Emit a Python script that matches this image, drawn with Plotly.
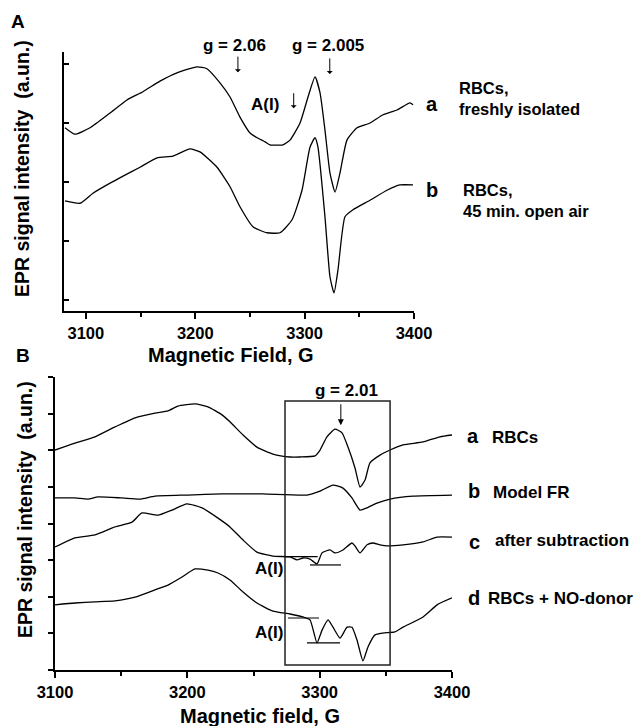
import plotly.graph_objects as go

# ---------------- Panel A data (field in G, intensity in a.un.) ----------------
field_A_a = [3080.9, 3090.1, 3103.8, 3122.1, 3137.6, 3152.2, 3167.8, 3183.3, 3201.6, 3210.7,
             3222.6, 3231.8, 3240.9, 3250.1, 3256.5, 3263.8, 3268.3, 3280.2, 3286.6, 3295.8,
             3303.1, 3309.5, 3314.1, 3318.6, 3323.2, 3327.8, 3332.3, 3338.7, 3347.9, 3359.8,
             3371.7, 3384.5, 3396.3, 3399.1]
int_A_a = [2.92, 2.81, 2.92, 3.17, 3.39, 3.53, 3.71, 3.85, 3.95, 3.92,
           3.68, 3.44, 3.10, 2.83, 2.75, 2.68, 2.63, 2.63, 2.71, 3.00,
           3.44, 3.78, 3.51, 2.88, 2.15, 1.83, 2.15, 2.71, 2.92, 3.00,
           3.14, 3.22, 3.34, 3.31]

field_A_b = [3080.9, 3094.6, 3106.5, 3122.1, 3134.0, 3149.5, 3165.0, 3179.7, 3195.2, 3204.3,
             3219.9, 3231.8, 3240.9, 3252.8, 3265.6, 3277.5, 3288.5, 3297.6, 3304.9, 3309.5,
             3312.2, 3318.6, 3323.2, 3326.9, 3330.5, 3336.9, 3344.2, 3359.8, 3375.3, 3387.2,
             3399.1]
int_A_b = [1.68, 1.64, 1.81, 1.98, 2.10, 2.25, 2.41, 2.44, 2.56, 2.51,
           2.25, 1.92, 1.58, 1.24, 1.14, 1.14, 1.36, 1.86, 2.59, 2.75,
           2.59, 1.41, 0.39, 0.12, 0.51, 1.41, 1.53, 1.69, 1.86, 1.95,
           1.95]

# ---------------- Panel B data ----------------
field_B_a = [3100, 3115.1, 3130.2, 3145.3, 3160.5, 3175.6, 3185.4, 3192.9, 3205.8, 3215.6,
             3226.2, 3232.2, 3242.1, 3252.6, 3264.7, 3277.6, 3285.1, 3296.5, 3300.3, 3305.5,
             3311.6, 3316.9, 3321.4, 3326.7, 3330.5, 3334.3, 3338.0, 3345.6, 3353.2, 3363.0,
             3378.1, 3390.9, 3400]
int_B_a = [6.01, 6.20, 6.37, 6.64, 6.89, 7.02, 7.08, 7.21, 7.27, 7.19,
           6.97, 6.78, 6.42, 6.09, 5.90, 5.82, 5.82, 5.85, 6.01, 6.37,
           6.58, 6.48, 6.09, 5.52, 5.00, 5.19, 5.66, 5.87, 6.01, 6.15,
           6.23, 6.37, 6.42]

field_B_b = [3100, 3115.1, 3124.9, 3132.5, 3150.6, 3164.2, 3175.6, 3200.5, 3226.2, 3257.2,
             3290.4, 3300.3, 3310.1, 3317.6, 3324.4, 3330.5, 3335.8, 3343.3, 3353.2, 3370.5,
             3400]
int_B_b = [4.70, 4.70, 4.67, 4.73, 4.70, 4.67, 4.75, 4.78, 4.81, 4.81,
           4.78, 4.89, 5.05, 4.97, 4.70, 4.37, 4.43, 4.56, 4.67, 4.75,
           4.78]

field_B_c = [3100, 3115.1, 3130.2, 3145.3, 3158.2, 3165.7, 3177.8, 3188.4, 3199.7, 3211.1,
             3223.2, 3232.2, 3242.1, 3252.6, 3264.7, 3277.6, 3282.9, 3287.4, 3292.7, 3298.0,
             3301.8, 3307.8, 3311.6, 3317.6, 3324.4, 3326.7, 3330.5, 3335.8, 3340.3, 3345.6,
             3350.9, 3363.0, 3378.1, 3388.7, 3400]
int_B_c = [3.36, 3.61, 3.69, 3.91, 4.04, 4.29, 4.23, 4.37, 4.54, 4.43,
           4.15, 3.91, 3.55, 3.22, 3.11, 3.09, 3.01, 3.06, 3.03, 2.90,
           3.20, 3.28, 3.20, 3.28, 3.47, 3.39, 3.20, 3.42, 3.47, 3.42,
           3.39, 3.42, 3.50, 3.63, 3.63]

field_B_d = [3100, 3115.1, 3130.2, 3145.3, 3160.5, 3175.6, 3185.4, 3196.0, 3205.8, 3215.6,
             3223.2, 3232.2, 3242.1, 3252.6, 3264.7, 3277.6, 3287.4, 3292.7, 3298.0, 3301.8,
             3306.3, 3310.1, 3315.4, 3320.7, 3324.4, 3328.2, 3332.7, 3336.5, 3341.8, 3347.8,
             3356.9, 3363.0, 3378.1, 3388.7, 3400]
int_B_d = [1.78, 1.83, 1.86, 1.89, 1.99, 2.19, 2.32, 2.54, 2.76, 2.73,
           2.65, 2.46, 2.13, 1.83, 1.61, 1.53, 1.45, 1.37, 0.74, 1.09,
           1.37, 1.17, 0.87, 1.17, 1.17, 0.82, 0.25, 0.63, 0.96, 1.01,
           1.04, 1.17, 1.45, 1.78, 1.97]

# A(I) marker lines in panel B: (x0, x1, y)
ai_lines_B = [(3274.0, 3298.5, 3.10), (3292.7, 3316.1, 2.87),
              (3276.0, 3299.5, 1.42), (3290.4, 3315.4, 0.74)]
# highlighted window in panel B
box_B = dict(x0=3273.8, x1=3353.2, y0=0.137, y1=7.35)

x_major = [3100, 3200, 3300, 3400]
x_minor = [3150, 3250, 3350]
x_ticktext = ["3100", "3200", "3300", "3400"]

FONT = "Liberation Sans, Arial, sans-serif"
W, H = 637, 726


def PX(x):
    return x / W


def PY(y):
    return 1 - y / H


fig = go.Figure()
line_style = dict(color="black", width=1.3, shape="spline", smoothing=0.5)
for fx, iy in [(field_A_a, int_A_a), (field_A_b, int_A_b)]:
    fig.add_trace(go.Scatter(x=fx, y=iy, mode="lines", line=line_style,
                             xaxis="x", yaxis="y", showlegend=False, hoverinfo="skip"))
for fx, iy in [(field_B_a, int_B_a), (field_B_b, int_B_b), (field_B_c, int_B_c), (field_B_d, int_B_d)]:
    fig.add_trace(go.Scatter(x=fx, y=iy, mode="lines", line=line_style,
                             xaxis="x2", yaxis="y2", showlegend=False, hoverinfo="skip"))

tickfont = dict(family=FONT, size=16.5, color="black", weight="bold")
common_x = dict(showline=True, linewidth=2, linecolor="black", ticks="outside",
                ticklen=6, tickwidth=1.5, tickcolor="black", tickvals=x_major,
                ticktext=x_ticktext, showgrid=False, zeroline=False, tickfont=tickfont,
                automargin=False,
                minor=dict(tickvals=x_minor, ticks="outside", ticklen=4, tickwidth=1.5,
                           tickcolor="black", showgrid=False))

fig.update_layout(
    width=W, height=H, margin=dict(l=0, r=0, t=0, b=0, pad=0, autoexpand=False),
    paper_bgcolor="white", plot_bgcolor="white",
    xaxis=dict(domain=[PX(64), PX(414)], range=[3080, 3400], anchor="y", **common_x),
    yaxis=dict(domain=[PY(311), PY(52)], range=[-0.186, 4.203], anchor="x",
               showline=True, linewidth=2, linecolor="black", ticks="inside",
               ticklen=5, tickwidth=1.5, tickcolor="black", tickvals=[0, 1, 2, 3, 4],
               showticklabels=False, showgrid=False, zeroline=False, automargin=False),
    xaxis2=dict(domain=[PX(55), PX(452)], range=[3100, 3400], anchor="y2", **common_x),
    yaxis2=dict(domain=[PY(670), PY(377)], range=[0, 8.005], anchor="x2",
                showline=True, linewidth=2, linecolor="black", ticks="outside",
                ticklen=5, tickwidth=1.5, tickcolor="black",
                tickvals=[0, 1, 2, 3, 4, 5, 6, 7, 8],
                showticklabels=False, showgrid=False, zeroline=False, automargin=False),
)

shapes = [dict(type="rect", xref="x2", yref="y2", line=dict(color="#222", width=1.5),
               fillcolor="rgba(0,0,0,0)", **box_B)]
for x0, x1, y in ai_lines_B:
    shapes.append(dict(type="line", xref="x2", yref="y2", x0=x0, x1=x1, y0=y, y1=y,
                       line=dict(color="black", width=1.2)))
fig.update_layout(shapes=shapes)

ann = []


def text(t, x, y, size=17, xanchor="center", xref="paper", yref="paper", angle=0):
    ann.append(dict(text=t, x=x, y=y, xref=xref, yref=yref, showarrow=False,
                    xanchor=xanchor, yanchor="middle", textangle=angle, borderpad=0,
                    font=dict(family=FONT, size=size, color="black", weight="bold")))


def arrow(x, y_tail, y_tip, xr, yr, head=1, size=1):
    ann.append(dict(text="", x=x, y=y_tip, ax=x, ay=y_tail, xref=xr, yref=yr,
                    axref=xr, ayref=yr, showarrow=True, arrowhead=head, arrowsize=size,
                    arrowwidth=1, arrowcolor="black"))


# Panel A texts
text("A", PX(18), PY(21), size=19)
text("EPR signal intensity  (a.un.)", PX(22), PY(169), size=19.5, angle=-90)
text("Magnetic Field, G", PX(231), PY(355), size=20)
text("g = 2.06", PX(234), PY(45))
text("g = 2.005", PX(328), PY(45))
text("A(I)", PX(265), PY(105))
arrow(3239, 4.15, 3.86, "x", "y")
arrow(3323, 4.12, 3.83, "x", "y")
arrow(3290, 3.53, 3.25, "x", "y")
text("a", PX(432), PY(104), size=20)
text("RBCs,", PX(458), PY(88.5), xanchor="left", size=16.5)
text("freshly isolated", PX(458), PY(109), xanchor="left", size=16.5)
text("b", PX(432), PY(190), size=20)
text("RBCs,", PX(462), PY(189.5), xanchor="left", size=16.5)
text("45 min. open air", PX(462), PY(210.5), xanchor="left", size=16.5)

# Panel B texts
text("B", PX(23), PY(355), size=19)
text("EPR signal intensity  (a.un.)", PX(25), PY(510), size=19.5, angle=-90)
text("Magnetic field, G", PX(260), PY(716), size=20)
text("g = 2.01", PX(346), PY(391))
arrow(3316, 7.30, 6.69, "x2", "y2", head=2, size=1.2)
text("A(I)", PX(269), PY(568))
text("A(I)", PX(269), PY(632))
text("a", PX(473), PY(436), size=20)
text("RBCs", PX(491), PY(437), xanchor="left")
text("b", PX(474), PY(491), size=20)
text("Model FR", PX(492), PY(492), xanchor="left")
text("c", PX(474), PY(542), size=20)
text("after subtraction", PX(494), PY(540), xanchor="left")
text("d", PX(474), PY(598), size=20)
text("RBCs + NO-donor", PX(487), PY(598), xanchor="left")

fig.update_layout(annotations=ann)
fig.write_html("out.html")
